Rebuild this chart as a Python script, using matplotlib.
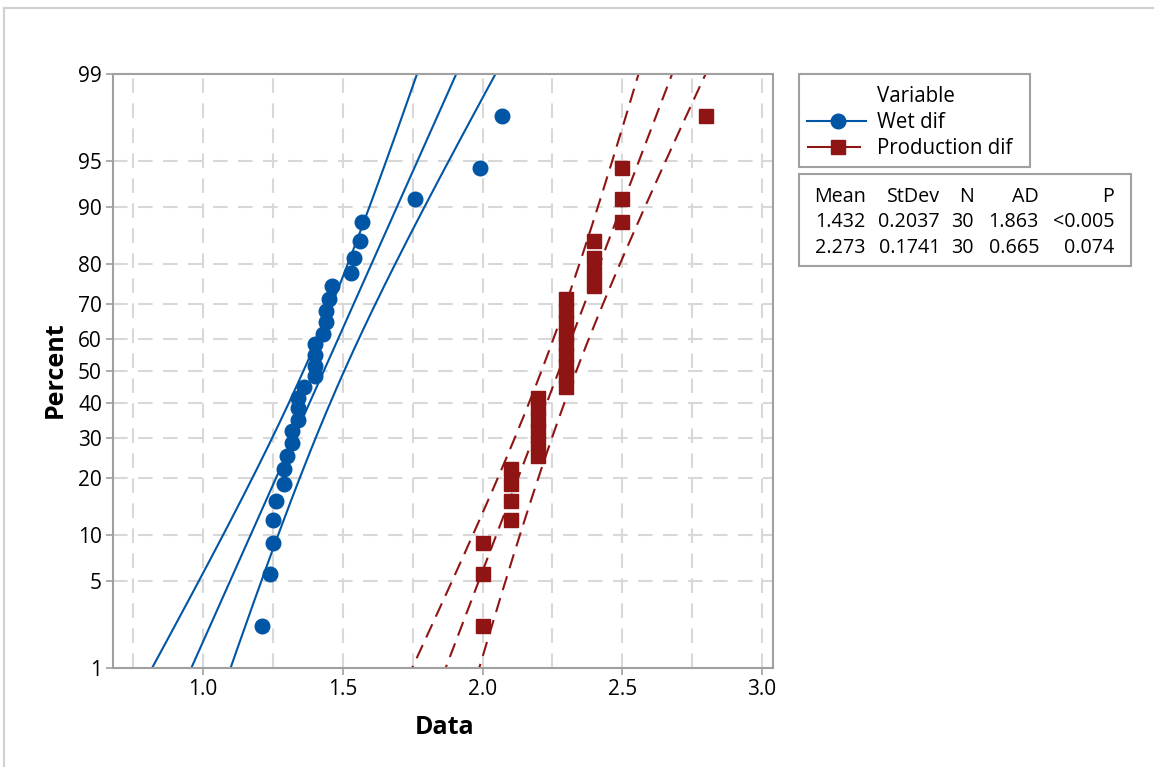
import matplotlib
matplotlib.use("Agg")
import matplotlib.pyplot as plt
from matplotlib.lines import Line2D
from matplotlib.patches import Rectangle
from statistics import NormalDist
import numpy as np

plt.rcParams["font.family"] = ["Open Sans", "DejaVu Sans"]

# data (30 obs each)
wet_dif = [1.21, 1.24, 1.25, 1.25, 1.26, 1.29, 1.29, 1.30, 1.32, 1.32,
           1.34, 1.34, 1.34, 1.36, 1.40, 1.40, 1.40, 1.40, 1.43, 1.44,
           1.44, 1.45, 1.46, 1.53, 1.54, 1.56, 1.57, 1.76, 1.99, 2.07]
prod_dif = [2.0] * 3 + [2.1] * 4 + [2.2] * 6 + [2.3] * 9 + [2.4] * 4 + [2.5] * 3 + [2.8]

series_names = ["Wet dif", "Production dif"]
means = [1.432, 2.273]
stdevs = [0.2037, 0.1741]
ns = [30, 30]
ads = ["1.863", "0.665"]
pvals = ["<0.005", "0.074"]

pct_ticks = [1, 5, 10, 20, 30, 40, 50, 60, 70, 80, 90, 95, 99]
x_ticks = [1.0, 1.5, 2.0, 2.5, 3.0]
x_grid = [0.75, 1.0, 1.25, 1.5, 1.75, 2.0, 2.25, 2.5, 2.75, 3.0]

BLUE = "#0055a5"
RED = "#8f1414"
GRID = "#d8d8d8"
SPINE = "#a0a0a0"

W, H = 1154, 767
nd = NormalDist()


def z(p):
    return nd.inv_cdf(p / 100.0)


def fx(x):
    return x / W


def fy(y):
    return 1 - y / H


fig = plt.figure(figsize=(W / 100, H / 100), dpi=100)
ax = fig.add_axes([fx(113), fy(668), (773 - 113) / W, (668 - 74) / H])

# grid
for g in x_grid:
    ax.axvline(g, color=GRID, lw=1.5, dashes=(7, 5), zorder=0)
for p in pct_ticks[1:-1]:
    ax.axhline(z(p), color=GRID, lw=1.5, dashes=(7, 5), zorder=0)

# fitted lines + 95% CI bands
zz = np.linspace(z(0.5), z(99.5), 200)
styles = [dict(color=BLUE, lw=1.5, ls="-"), dict(color=RED, lw=1.5, dashes=(7, 4))]
for m, s, n, st in zip(means, stdevs, ns, styles):
    xc = m + zz * s
    half = 1.96 * np.sqrt(s ** 2 / n * (1 + zz ** 2 / 2))
    for xs in (xc - half, xc, xc + half):
        ax.plot(xs, zz, zorder=2, **st)

# points at median ranks
for data, col, mk in [(wet_dif, BLUE, "o"), (prod_dif, RED, "s")]:
    xs = sorted(data)
    n = len(xs)
    ps = [(i + 1 - 0.3) / (n + 0.4) * 100 for i in range(n)]
    ax.plot(xs, [z(p) for p in ps], ls="none", marker=mk, ms=10.5 if mk == "o" else 10,
            color=col, mec=col, zorder=3)

ax.set_xlim(0.678, 3.039)
ax.set_ylim(z(1), z(99))
ax.set_xticks(x_ticks)
ax.set_xticklabels([f"{t:.1f}" for t in x_ticks])
ax.set_yticks([z(p) for p in pct_ticks])
ax.set_yticklabels([str(p) for p in pct_ticks])
ax.tick_params(labelsize=15, length=5, width=1.2, color=SPINE, pad=3)
for sp in ax.spines.values():
    sp.set_color(SPINE)
    sp.set_linewidth(1.5)

fig.text(fx(55), fy(370), "Percent", rotation=90, ha="center", va="center",
         fontsize=18, fontweight="bold")
fig.text(fx(445), fy(727), "Data", ha="center", va="center",
         fontsize=18, fontweight="bold")

# outer frame
fig.add_artist(Line2D([fx(4), 1], [fy(8), fy(8)], color="#d0d0d0", lw=1.5))
fig.add_artist(Line2D([fx(4), fx(4)], [fy(8), 0], color="#d0d0d0", lw=1.5))

# legend box
fig.add_artist(Rectangle((fx(799), fy(167)), (1030 - 799) / W, (167 - 74) / H,
                         fill=False, ec=SPINE, lw=1.5))
fig.text(fx(877), fy(97), "Variable", ha="left", va="center", fontsize=14.8)
for name, col, mk, y, x0, x1 in [(series_names[0], BLUE, "o", 121, 807, 866),
                                 (series_names[1], RED, "s", 147, 808, 860)]:
    fig.add_artist(Line2D([fx(x0), fx(x1)], [fy(y), fy(y)], color=col, lw=1.5))
    fig.add_artist(Line2D([fx(837.5)], [fy(y)], marker=mk, ms=10.5 if mk == "o" else 10,
                          color=col, ls="none"))
    fig.text(fx(877), fy(y + 2), name, ha="left", va="center", fontsize=14.8)

# stats table
fig.add_artist(Rectangle((fx(799), fy(266)), (1131 - 799) / W, (266 - 174) / H,
                         fill=False, ec=SPINE, lw=1.5))
col_right = [866, 940, 974, 1039, 1114]
headers = ["Mean", "StDev", "N", "AD", "P"]
for xr, h in zip(col_right, headers):
    fig.text(fx(xr), fy(197), h, ha="right", va="center", fontsize=14.2)
for i, y in enumerate([222, 248]):
    row = [f"{means[i]:.3f}", f"{stdevs[i]:.4f}", str(ns[i]), ads[i], pvals[i]]
    for xr, v in zip(col_right, row):
        fig.text(fx(xr), fy(y), v, ha="right", va="center", fontsize=14.2)

fig.savefig("out.png", dpi=100)
